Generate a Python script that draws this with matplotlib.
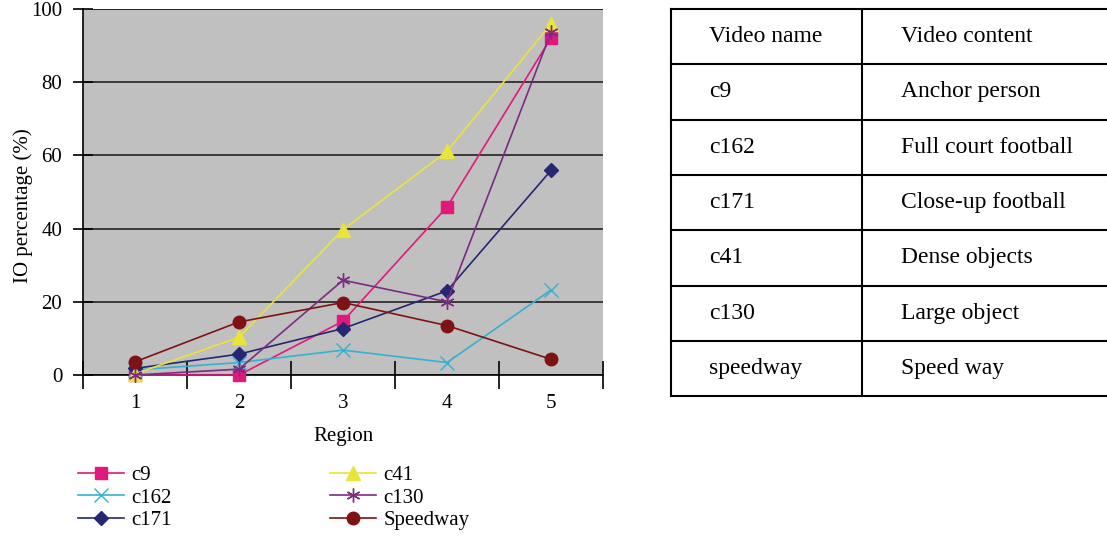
# IO percentage per region for the test videos, with the video description table

import numpy as np
import matplotlib.pyplot as plt

plt.rcParams['font.family'] = ['Liberation Serif', 'DejaVu Serif']

regions = [1, 2, 3, 4, 5]
c9 = [0.0, 0.0, 14.7, 45.9, 92.1]
c162 = [1.4, 3.4, 6.8, 3.4, 23.2]
c171 = [1.8, 5.7, 12.7, 23.0, 55.9]
c41 = [0.3, 10.3, 39.7, 61.1, 95.9]
c130 = [0.0, 1.6, 25.9, 20.0, 93.6]
speedway = [3.6, 14.5, 19.8, 13.5, 4.3]

video_names = ['Video name', 'c9', 'c162', 'c171', 'c41', 'c130', 'speedway']
video_content = ['Video content', 'Anchor person', 'Full court football',
                 'Close-up football', 'Dense objects', 'Large object', 'Speed way']

W, H = 1107, 537
fig = plt.figure(figsize=(W / 100, H / 100), dpi=100)

# chart area in pixels: left 83, right 603, top 9, bottom 375
ax = fig.add_axes([83 / W, 1 - 375 / H, 520 / W, 366 / H])
ax.set_facecolor('#c0c0c0')

series = [
    ('c9', c9, '#e2197c', 's', 8.5),
    ('c162', c162, '#35b1cf', 'x', 10),
    ('c171', c171, '#272673', 'D', 7),
    ('c41', c41, '#e8e43c', '^', 10),
    ('c130', c130, '#7c2b82', (6, 2, 0), 10),
    ('Speedway', speedway, '#7f1214', 'o', 9),
]
handles = []
for name, vals, col, mk, ms in series:
    ln, = ax.plot(regions, vals, color=col, lw=1.2, marker=mk, markersize=ms,
                  markeredgecolor=col, markerfacecolor=col, markeredgewidth=1.0,
                  label=name, clip_on=False, zorder=3)
    handles.append(ln)

ax.set_xlim(0.5, 5.5)
ax.set_ylim(0, 100)
ax.set_yticks(np.arange(0, 101, 20))
ax.yaxis.grid(True, color='#222222', lw=1.2)
ax.set_axisbelow(True)

# category boundaries carry the x ticks, labels sit at the centres
ax.set_xticks(np.arange(0.5, 5.6, 1.0))
ax.set_xticklabels([])
ax.set_xticks(regions, minor=True)
ax.set_xticklabels([str(r) for r in regions], minor=True, fontsize=15)
ax.tick_params(axis='x', which='major', direction='inout', length=20, width=1.2, color='black')
ax.tick_params(axis='x', which='minor', length=0, pad=14)
ax.tick_params(axis='y', direction='inout', length=14, width=1.2, labelsize=15, pad=8)

for s in ['top', 'right']:
    ax.spines[s].set_visible(False)
ax.spines['left'].set_linewidth(1.2)
ax.spines['bottom'].set_linewidth(1.2)
ax.axhline(100, color='#222222', lw=1.2)

ax.set_xlabel('Region', fontsize=15, labelpad=10)
ax.set_ylabel('IO percentage (%)', fontsize=15, va='center')
ax.yaxis.set_label_coords(-0.115, 0.464)

fig.legend(handles=handles, loc='upper left', bbox_to_anchor=(68 / W, 1 - 455 / H),
           ncol=2, frameon=False, fontsize=15, handlelength=2.2, handletextpad=0.35,
           columnspacing=7.6, labelspacing=0.15, borderpad=0)

# description table at the right
tax = fig.add_axes([0, 0, 1, 1])
tax.set_xlim(0, W)
tax.set_ylim(H, 0)
tax.axis('off')
top, row_h = 9, 55.3
left, mid, right = 671, 862, W
n = len(video_names)
for i in range(n + 1):
    y = top + i * row_h
    tax.plot([left, right], [y, y], color='black', lw=1.5)
for x in (left, mid):
    tax.plot([x, x], [top, top + n * row_h], color='black', lw=1.5)
for i in range(n):
    yc = top + (i + 0.5) * row_h
    tax.text(709, yc, video_names[i], fontsize=17, va='center', ha='left')
    tax.text(901, yc, video_content[i], fontsize=17, va='center', ha='left')

fig.savefig('out.png', dpi=100)
